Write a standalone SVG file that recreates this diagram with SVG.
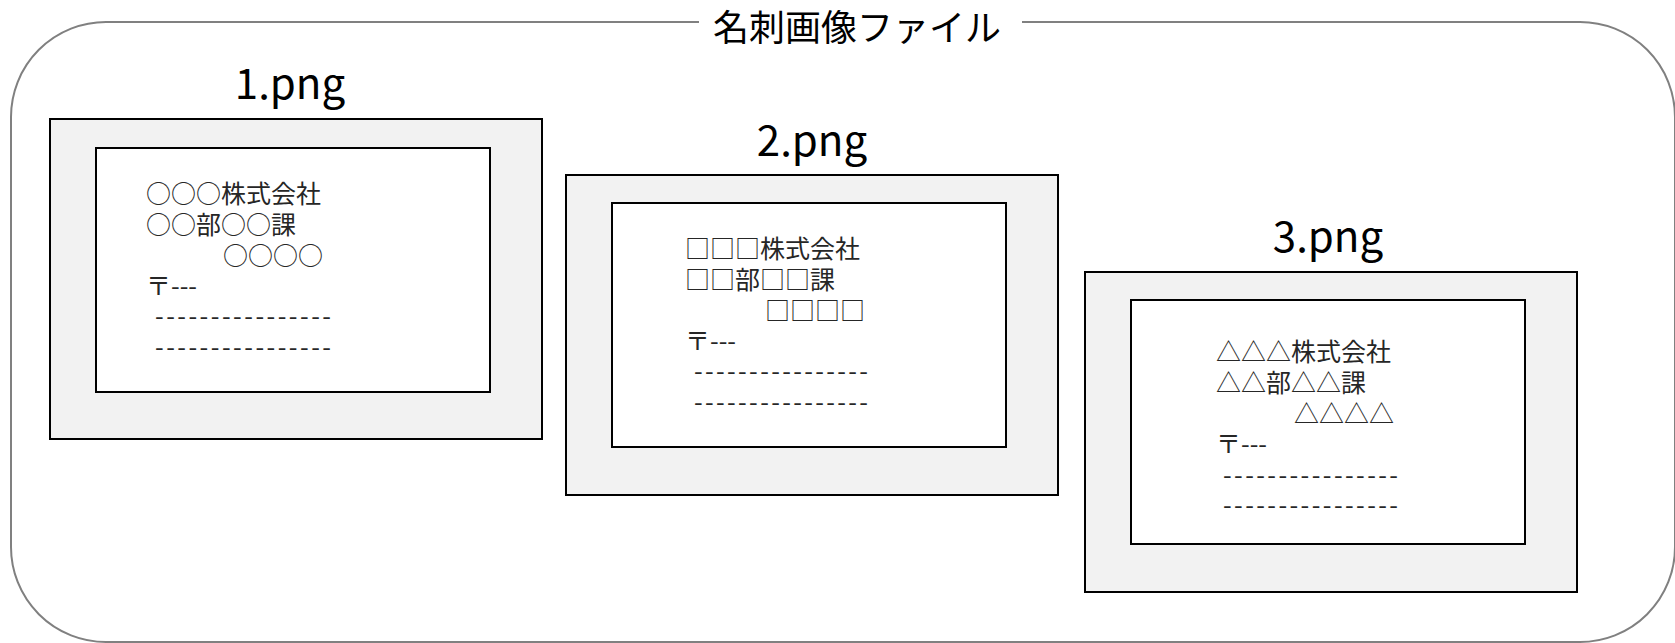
<svg xmlns="http://www.w3.org/2000/svg" width="1675" height="643" viewBox="0 0 1675 643">
<style>
.frame{fill:none;stroke:#808080;stroke-width:2}
.outer{fill:#F2F2F2;stroke:#000;stroke-width:2}
.inner{fill:#FFF;stroke:#000;stroke-width:2}
.title{font-family:"Noto Sans CJK JP","Noto Sans",sans-serif;font-size:36px;fill:#000}
.lbl{font-family:"Noto Sans CJK JP","Noto Sans",sans-serif;font-size:42px;fill:#000}
.card{font-family:"Noto Sans CJK JP","Noto Sans",sans-serif;font-size:25px;fill:#262626}
</style>
<g id="frame">
<path class="frame" d="M 699 22 L 106 22 A 95 95 0 0 0 11 117 L 11 547 A 95 95 0 0 0 106 642 L 1580 642 A 95 95 0 0 0 1675 547 L 1675 117 A 95 95 0 0 0 1580 22 L 1022 22"/>
<text class="title" x="857" y="41" text-anchor="middle">名刺画像ファイル</text>
</g>
<g id="card1">
<text class="lbl" x="290" y="99" text-anchor="middle">1.png</text>
<rect class="outer" x="50" y="119" width="492" height="320"/>
<rect class="inner" x="96" y="148" width="394" height="244"/>
<text class="card"><tspan x="146" y="203">○○○株式会社</tspan><tspan x="146" y="234">○○部○○課</tspan><tspan x="223" y="265">○○○○</tspan><tspan x="146" y="295">〒---</tspan><tspan x="155" y="325" textLength="176" lengthAdjust="spacing">----------------</tspan><tspan x="155" y="356" textLength="176" lengthAdjust="spacing">----------------</tspan></text>
</g>
<g id="card2">
<text class="lbl" x="812" y="156" text-anchor="middle">2.png</text>
<rect class="outer" x="566" y="175" width="492" height="320"/>
<rect class="inner" x="612" y="203" width="394" height="244"/>
<text class="card"><tspan x="685" y="258">□□□株式会社</tspan><tspan x="685" y="289">□□部□□課</tspan><tspan x="765" y="320">□□□□</tspan><tspan x="685" y="350">〒---</tspan><tspan x="694" y="380" textLength="174" lengthAdjust="spacing">----------------</tspan><tspan x="694" y="411" textLength="174" lengthAdjust="spacing">----------------</tspan></text>
</g>
<g id="card3">
<text class="lbl" x="1328" y="252" text-anchor="middle">3.png</text>
<rect class="outer" x="1085" y="272" width="492" height="320"/>
<rect class="inner" x="1131" y="300" width="394" height="244"/>
<text class="card"><tspan x="1216" y="361">△△△株式会社</tspan><tspan x="1216" y="392">△△部△△課</tspan><tspan x="1294" y="423">△△△△</tspan><tspan x="1216" y="453">〒---</tspan><tspan x="1223" y="484" textLength="175" lengthAdjust="spacing">----------------</tspan><tspan x="1223" y="514" textLength="175" lengthAdjust="spacing">----------------</tspan></text>
</g>
</svg>
